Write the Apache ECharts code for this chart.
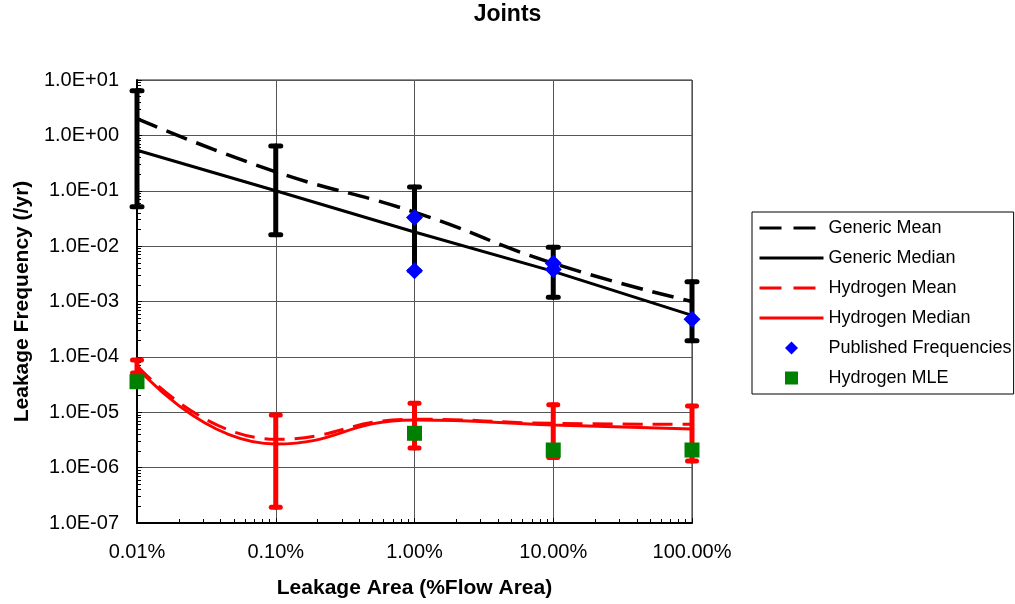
<!DOCTYPE html>
<html><head><meta charset="utf-8">
<script src="https://cdn.jsdelivr.net/npm/echarts@6/dist/echarts.min.js"></script>
<style>html,body{margin:0;padding:0;background:#fff}#c{width:1015px;height:604px}</style>
</head><body><div id="c"></div>
<script>
// ---- data ----
const leakArea = [0.01, 0.1, 1, 10, 100];               // % of flow area
const xTickLabels = ['0.01%', '0.10%', '1.00%', '10.00%', '100.00%'];
const yTickLabels = ['1.0E-07','1.0E-06','1.0E-05','1.0E-04','1.0E-03','1.0E-02','1.0E-01','1.0E+00','1.0E+01'];

const genericMean    = [2.0, 0.22, 0.041, 0.0049, 0.001];
const genericMedian  = [0.54, 0.1, 0.018, 0.0035, 0.00056];
const hydrogenMean   = [7.0e-5, 3.25e-6, 7.5e-6, 6.3e-6, 6.05e-6];
const hydrogenMedian = [6.5e-5, 2.67e-6, 7.24e-6, 5.9e-6, 5.0e-6];

const genericErrLow   = [0.0515, 0.0161, 0.0036, 0.00119, 0.000196];
const genericErrHigh  = [6.4, 0.643, 0.117, 0.0095, 0.00228];
const hydrogenErrLow  = [5.1e-5, 1.92e-7, 2.26e-6, 1.53e-6, 1.32e-6];
const hydrogenErrHigh = [8.8e-5, 8.9e-6, 1.45e-5, 1.37e-5, 1.3e-5];

const publishedX = [1, 1, 10, 10, 100];
const publishedY = [0.033, 0.0036, 0.0049, 0.0038, 0.00048];
const mleX = [0.01, 1, 10, 100];
const mleY = [3.56e-5, 4.17e-6, 2.08e-6, 2.08e-6];

// ---- helpers ----
const zip = (xs, ys) => xs.map((x, i) => [x, ys[i]]);
const zip3 = (xs, a, b) => xs.map((x, i) => [x, a[i], b[i]]);
const FONT = 'Liberation Sans, Arial, sans-serif';

function errRender(capHalf, lw, color) {
  return function (params, api) {
    const x = api.value(0), lo = api.value(1), hi = api.value(2);
    const pLo = api.coord([x, lo]), pHi = api.coord([x, hi]);
    const style = { stroke: color, lineWidth: lw, lineCap: 'round' };
    return {
      type: 'group',
      children: [
        { type: 'line', shape: { x1: pLo[0], y1: pLo[1], x2: pHi[0], y2: pHi[1] }, style: style },
        { type: 'line', shape: { x1: pHi[0] - capHalf, y1: pHi[1], x2: pHi[0] + capHalf, y2: pHi[1] }, style: style },
        { type: 'line', shape: { x1: pLo[0] - capHalf, y1: pLo[1], x2: pLo[0] + capHalf, y2: pLo[1] }, style: style }
      ]
    };
  };
}

const hideSym = { opacity: 0 };
const chart = echarts.init(document.getElementById('c'), null, { renderer: 'canvas' });
chart.setOption({
  animation: false,
  backgroundColor: '#fff',
  title: {
    text: 'Joints', left: 'center', top: 3, padding: 0,
    textStyle: { fontFamily: FONT, fontSize: 23, fontWeight: 'bold', color: '#000' }
  },
  grid: {
    left: 137, right: 323, top: 80, bottom: 81,
    show: true, borderColor: '#222', borderWidth: 1, backgroundColor: '#fff'
  },
  legend: {
    orient: 'vertical', left: 752, top: 212,
    padding: [7, 2, 7, 6], itemWidth: 64, itemHeight: 13, itemGap: 12,
    borderColor: '#000', borderWidth: 1, backgroundColor: '#fff',
    textStyle: { fontFamily: FONT, fontSize: 18, color: '#000', lineHeight: 18 },
    data: [
      { name: 'Generic Mean', itemStyle: hideSym, lineStyle: { color: '#000', width: 3, type: [22, 12] } },
      { name: 'Generic Median', itemStyle: hideSym, lineStyle: { color: '#000', width: 3, type: 'solid' } },
      { name: 'Hydrogen Mean', itemStyle: hideSym, lineStyle: { color: '#f00', width: 3, type: [22, 12] } },
      { name: 'Hydrogen Median', itemStyle: hideSym, lineStyle: { color: '#f00', width: 3, type: 'solid' } },
      { name: 'Published Frequencies', icon: 'path://M0,-1L1,0L0,1L-1,0Z' },
      { name: 'Hydrogen MLE', icon: 'path://M-1,-1L1,-1L1,1L-1,1Z' }
    ]
  },
  xAxis: {
    type: 'log', logBase: 10, min: 0.01, max: 100, interval: 1,
    name: 'Leakage Area (%Flow Area)', nameLocation: 'middle', nameGap: 55,
    nameTextStyle: { fontFamily: FONT, fontSize: 21, fontWeight: 'bold', color: '#000' },
    axisLine: { show: true, onZero: false, lineStyle: { color: '#000', width: 2 } },
    axisTick: { show: true, inside: true, length: 5, lineStyle: { color: '#000', width: 1 } },
    minorTick: { show: true, splitNumber: 9, length: 4, lineStyle: { color: '#000', width: 1 } },
    axisLabel: {
      margin: 19, fontFamily: FONT, fontSize: 20, color: '#000',
      formatter: v => xTickLabels[Math.round(Math.log10(v)) + 2]
    },
    splitLine: { show: true, lineStyle: { color: '#555', width: 1 } }
  },
  yAxis: {
    type: 'log', logBase: 10, min: 1e-7, max: 10, interval: 1,
    name: 'Leakage Frequency (/yr)', nameLocation: 'middle', nameGap: 104,
    nameTextStyle: { fontFamily: FONT, fontSize: 21, fontWeight: 'bold', color: '#000' },
    axisLine: { show: true, onZero: false, lineStyle: { color: '#000', width: 2 } },
    axisTick: { show: true, inside: true, length: 5, lineStyle: { color: '#000', width: 1 } },
    minorTick: { show: true, splitNumber: 9, length: 4, lineStyle: { color: '#000', width: 1 } },
    axisLabel: {
      margin: 18, fontFamily: FONT, fontSize: 20, color: '#000',
      formatter: v => yTickLabels[Math.round(Math.log10(v)) + 7]
    },
    splitLine: { show: true, lineStyle: { color: '#555', width: 1 } }
  },
  series: [
    {
      name: 'Generic Error', type: 'custom', clip: false, z: 2,
      renderItem: errRender(5, 5, '#000'),
      encode: { x: 0, y: [1, 2] },
      data: zip3(leakArea, genericErrLow, genericErrHigh)
    },
    {
      name: 'Hydrogen Error', type: 'custom', clip: false, z: 2,
      renderItem: errRender(4.5, 5, '#f00'),
      encode: { x: 0, y: [1, 2] },
      data: zip3(leakArea, hydrogenErrLow, hydrogenErrHigh)
    },
    {
      name: 'Generic Mean', type: 'line', smooth: 0.5, symbol: 'none', z: 3,
      itemStyle: { color: '#000' },
      lineStyle: { color: '#000', width: 3.5, type: [22, 10] },
      data: zip(leakArea, genericMean)
    },
    {
      name: 'Generic Median', type: 'line', smooth: false, symbol: 'none', z: 3,
      itemStyle: { color: '#000' },
      lineStyle: { color: '#000', width: 3 },
      data: zip(leakArea, genericMedian)
    },
    {
      name: 'Hydrogen Mean', type: 'line', smooth: 0.5, symbol: 'none', z: 3,
      itemStyle: { color: '#f00' },
      lineStyle: { color: '#f00', width: 3, type: [20, 10] },
      data: zip(leakArea, hydrogenMean)
    },
    {
      name: 'Hydrogen Median', type: 'line', smooth: 0.5, symbol: 'none', z: 3,
      itemStyle: { color: '#f00' },
      lineStyle: { color: '#f00', width: 3 },
      data: zip(leakArea, hydrogenMedian)
    },
    {
      name: 'Published Frequencies', type: 'scatter', symbol: 'diamond', symbolSize: 17, z: 4,
      clip: false,
      itemStyle: { color: '#0000ff', opacity: 1 },
      data: zip(publishedX, publishedY)
    },
    {
      name: 'Hydrogen MLE', type: 'scatter', symbol: 'rect', symbolSize: 15, z: 4,
      clip: false,
      itemStyle: { color: '#008000', opacity: 1 },
      data: zip(mleX, mleY)
    }
  ]
});
</script>
</body></html>
